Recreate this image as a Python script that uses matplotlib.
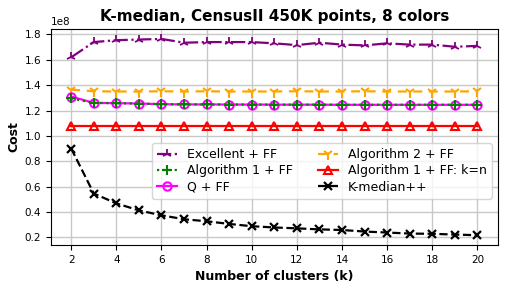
import numpy as np
import matplotlib
matplotlib.use("Agg")
import matplotlib.pyplot as plt

# number of clusters
k = np.arange(2, 21)

# costs, in units of 1e8
excellentFF = [1.62, 1.74, 1.755, 1.76, 1.765, 1.735, 1.74, 1.74, 1.74, 1.73,
               1.716, 1.735, 1.72, 1.714, 1.73, 1.72, 1.72, 1.703, 1.71]
alg1FF = [1.295, 1.26, 1.258, 1.255, 1.25, 1.248, 1.248, 1.247, 1.247, 1.246,
          1.246, 1.246, 1.245, 1.245, 1.245, 1.245, 1.245, 1.245, 1.245]
qFF = [1.31, 1.26, 1.258, 1.255, 1.25, 1.248, 1.248, 1.247, 1.247, 1.246,
       1.246, 1.246, 1.245, 1.245, 1.245, 1.245, 1.245, 1.245, 1.245]
alg2FF = [1.365, 1.352, 1.35, 1.35, 1.352, 1.35, 1.352, 1.35, 1.35, 1.35,
          1.352, 1.35, 1.35, 1.352, 1.35, 1.35, 1.35, 1.35, 1.352]
alg1FFkn = [1.08] * 19
kmedianpp = [0.90, 0.545, 0.467, 0.412, 0.373, 0.342, 0.326, 0.305, 0.287, 0.277,
             0.27, 0.262, 0.257, 0.245, 0.237, 0.229, 0.227, 0.221, 0.216]

fig, ax = plt.subplots(figsize=(5.09, 2.91), dpi=100)

scale = 1e8
lw = 1.6
ax.plot(k, np.array(excellentFF) * scale, color="purple", linestyle="-.", marker="2",
        markersize=7, markeredgewidth=1.3, linewidth=lw, label="Excellent + FF")
ax.plot(k, np.array(alg1FF) * scale, color="green", linestyle=":", marker="+",
        markersize=7, markeredgewidth=1.5, linewidth=lw, label="Algorithm 1 + FF", zorder=4)
ax.plot(k, np.array(qFF) * scale, color="magenta", linestyle="-", marker="o",
        markersize=6, markeredgewidth=1.5, fillstyle="none", linewidth=lw, label="Q + FF", zorder=3)
ax.plot(k, np.array(alg2FF) * scale, color="orange", linestyle="--", marker="1",
        markersize=8, markeredgewidth=1.5, linewidth=lw, dashes=(4, 3), label="Algorithm 2 + FF")
ax.plot(k, np.array(alg1FFkn) * scale, color="red", linestyle="-", marker="^",
        markersize=6, markeredgewidth=1.5, fillstyle="none", linewidth=lw,
        label="Algorithm 1 + FF: k=n")
ax.plot(k, np.array(kmedianpp) * scale, color="black", linestyle="--", marker="x",
        markersize=6, markeredgewidth=1.6, linewidth=lw, label="K-median++")

ax.set_xticks(np.arange(2, 21, 2))
ax.tick_params(labelsize=7.5)
ax.yaxis.get_offset_text().set_fontsize(7.5)
ax.grid(True, color="#c8c8c8", linewidth=1)
ax.set_title("K-median, CensusII 450K points, 8 colors", fontsize=11, fontweight="bold")
ax.set_xlabel("Number of clusters (k)", fontsize=9, fontweight="bold")
ax.set_ylabel("Cost", fontsize=9, fontweight="bold", labelpad=3)
ax.legend(ncol=2, loc="upper right", bbox_to_anchor=(1.0, 0.5), fontsize=9,
          handlelength=1.6, columnspacing=2.0, labelspacing=0.25)

fig.subplots_adjust(left=0.1, right=0.978, top=0.9, bottom=0.158)
fig.savefig("out.png", dpi=100)
